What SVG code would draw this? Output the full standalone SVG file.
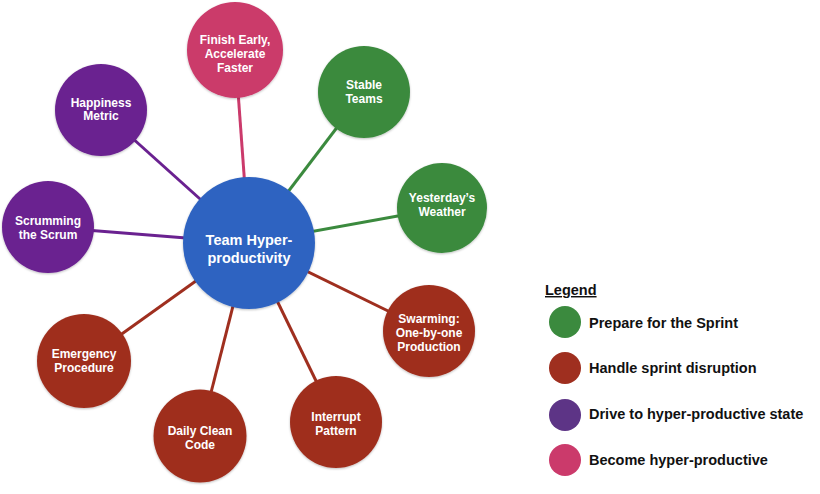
<svg xmlns="http://www.w3.org/2000/svg" width="820" height="494" viewBox="0 0 820 494">
<defs>
<filter id="sh" x="-20%" y="-20%" width="140%" height="140%">
<feDropShadow dx="0" dy="1" stdDeviation="1.2" flood-color="#000" flood-opacity="0.25"/>
</filter>
</defs>
<style>
.n text{font-family:"Liberation Sans",Arial,sans-serif;font-weight:bold;font-size:12px;fill:#fff;text-anchor:middle}
.c line{stroke-width:3}
.g{fill:#3B8A3E}.r{fill:#9F2F1F}.p{fill:#6A2190}.k{fill:#CB3A6B}.b{fill:#2F64C1}
.lg text{font-family:"Liberation Sans",Arial,sans-serif;font-weight:bold;font-size:14.5px;fill:#111}
</style>
<rect width="820" height="494" fill="#fff"/>
<g id="connectors" class="c">
<line x1="249" y1="243" x2="235" y2="50" stroke="#CB3A6B"/>
<line x1="249" y1="243" x2="364" y2="92" stroke="#3B8A3E"/>
<line x1="249" y1="243" x2="442" y2="208" stroke="#3B8A3E"/>
<line x1="249" y1="243" x2="101" y2="110" stroke="#6A2190"/>
<line x1="249" y1="243" x2="48" y2="227" stroke="#6A2190"/>
<line x1="249" y1="243" x2="84" y2="361" stroke="#9F2F1F"/>
<line x1="249" y1="243" x2="200" y2="436" stroke="#9F2F1F"/>
<line x1="249" y1="243" x2="336" y2="422" stroke="#9F2F1F"/>
<line x1="249" y1="243" x2="429" y2="331" stroke="#9F2F1F"/>
</g>
<g id="center" class="n"><circle cx="249" cy="243" r="66" class="b" filter="url(#sh)"/>
<text x="249" y="245" style="font-size:14.5px">Team Hyper-</text><text x="249" y="263" style="font-size:14.5px">productivity</text></g>
<g id="finish" class="n"><circle cx="235" cy="50" r="48" class="k" filter="url(#sh)"/>
<text x="235" y="44">Finish Early,</text><text x="235" y="58">Accelerate</text><text x="235" y="72">Faster</text></g>
<g id="stable" class="n"><circle cx="364" cy="92" r="46" class="g" filter="url(#sh)"/>
<text x="364" y="89">Stable</text><text x="364" y="103">Teams</text></g>
<g id="weather" class="n"><circle cx="442" cy="208" r="45" class="g" filter="url(#sh)"/>
<text x="442" y="202">Yesterday’s</text><text x="442" y="216">Weather</text></g>
<g id="happiness" class="n"><circle cx="101" cy="110" r="46" class="p" filter="url(#sh)"/>
<text x="101" y="107">Happiness</text><text x="101" y="120">Metric</text></g>
<g id="scrumming" class="n"><circle cx="48" cy="227" r="46" class="p" filter="url(#sh)"/>
<text x="48" y="225">Scrumming</text><text x="48" y="239">the Scrum</text></g>
<g id="emergency" class="n"><circle cx="84" cy="361" r="47" class="r" filter="url(#sh)"/>
<text x="84" y="358">Emergency</text><text x="84" y="372">Procedure</text></g>
<g id="daily" class="n"><circle cx="200" cy="436" r="46.5" class="r" filter="url(#sh)"/>
<text x="200" y="435">Daily Clean</text><text x="200" y="449">Code</text></g>
<g id="interrupt" class="n"><circle cx="336" cy="422" r="46" class="r" filter="url(#sh)"/>
<text x="336" y="421">Interrupt</text><text x="336" y="435">Pattern</text></g>
<g id="swarming" class="n"><circle cx="429" cy="331" r="46" class="r" filter="url(#sh)"/>
<text x="429" y="323">Swarming:</text><text x="429" y="337">One-by-one</text><text x="429" y="351">Production</text></g>
<g id="legend" class="lg">
<text x="545" y="295" text-decoration="underline">Legend</text>
<circle cx="565" cy="322" r="16" fill="#3B8A3E"/><text x="589" y="328">Prepare for the Sprint</text>
<circle cx="565" cy="368" r="16" fill="#9F2F1F"/><text x="589" y="373">Handle sprint disruption</text>
<circle cx="565" cy="415" r="16" fill="#5D3486"/><text x="589" y="419">Drive to hyper-productive state</text>
<circle cx="565" cy="460" r="16" fill="#CB3A6B"/><text x="589" y="465">Become hyper-productive</text>
</g>
</svg>
